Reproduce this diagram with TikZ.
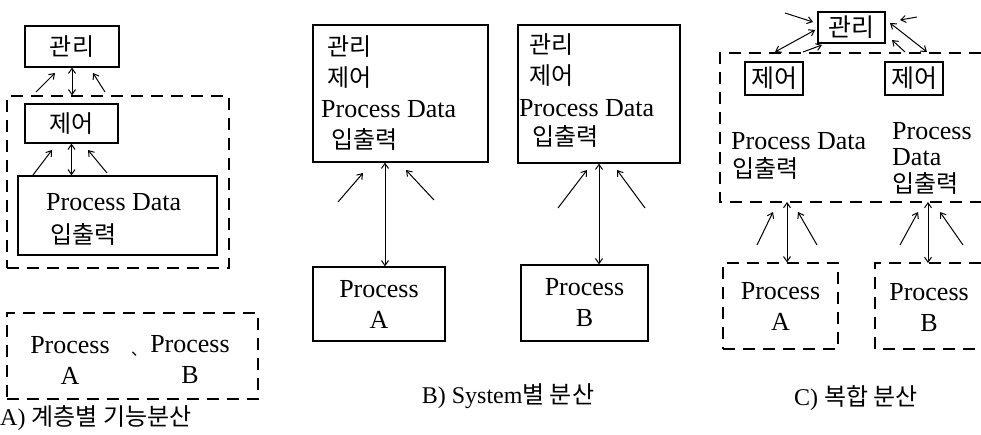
\documentclass[tikz,border=0pt]{standalone}
\usepackage{fontspec}
\setmainfont{Liberation Serif}
\newfontfamily\kr{Noto Sans CJK KR}
\usetikzlibrary{arrows.meta}
\tikzset{
  box/.style={draw, line width=1.2pt, inner sep=0pt},
  dbox/.style={box, dash pattern=on 12pt off 8pt},
  dline/.style={line width=1.2pt, dash pattern=on 12pt off 8pt},
  lat/.style={font=\fontsize{26}{31}\selectfont, inner sep=0pt},
  han/.style={font=\kr\fontsize{24}{28}\selectfont, inner sep=0pt},
  hanbig/.style={font=\kr\fontsize{25}{28}\selectfont, inner sep=0pt},
  capt/.style={font=\fontsize{24}{28}\selectfont, inner sep=0pt},
  tip/.tip={Straight Barb[length=5pt,width=7pt]},
  link/.style={line width=1pt, -tip},
  dlink/.style={line width=1pt, tip-tip},
}
\begin{document}
\begin{tikzpicture}[x=1pt,y=-1pt]
\useasboundingbox (0,0) rectangle (981,435);

% ---------- A) hierarchical distribution ----------
\node[box,han,minimum width=94pt,minimum height=41pt] (amg) at (72,46.5) {관리};
\node[dbox,minimum width=222pt,minimum height=172pt] (adash) at (118,182) {};
\node[box,han,minimum width=93pt,minimum height=39pt] (actl) at (71.5,123.5) {제어};
\node[box,minimum width=199pt,minimum height=79pt] (apd) at (117.5,215.5) {};
\node[lat,anchor=west] (apdt) at (46,202) {Process Data};
\node[han,anchor=west] (apdk) at (50,234) {입출력};

\draw[dlink] (amg.south) -- (amg.south |- adash.north);
\coordinate (a1s) at (36,92);  \coordinate (a1e) at (55,73);
\coordinate (a2s) at (105,92); \coordinate (a2e) at (93,73);
\draw[link] (a1s) -- (a1e);
\draw[link] (a2s) -- (a2e);

\draw[dlink] (actl.south) -- (actl.south |- apd.north);
\coordinate (a3s) at (33,175);  \coordinate (a3e) at (52,150);
\coordinate (a4s) at (107,173); \coordinate (a4e) at (88,150);
\draw[link] (a3s) -- (a3e);
\draw[link] (a4s) -- (a4e);

\node[dbox,minimum width=251pt,minimum height=86pt] (apab) at (132.5,356) {};
\node[lat,align=center] (apa) at (70,360) {Process\\A};
\node[lat,align=center] (apb) at (190,360) {Process\\B};
\node[font=\kr\fontsize{16}{18}\selectfont,inner sep=0pt] (acom) at (139,354) {、};
\node[capt,anchor=west] (acap) at (0,418) {A) {\kr 계층별 기능분산}};

% ---------- B) distribution by system ----------
\node[box,minimum width=175pt,minimum height=137pt] (bl) at (400.5,93.5) {};
\node[han,anchor=west] (blm) at (327,47) {관리};
\node[han,anchor=west] (blc) at (327,78) {제어};
\node[lat,anchor=west] (blp) at (321,109) {Process Data};
\node[han,anchor=west] (blk) at (331,139) {입출력};

\node[box,minimum width=162pt,minimum height=138pt] (br) at (599,94) {};
\node[han,anchor=west] (brm) at (529,45) {관리};
\node[han,anchor=west] (brc) at (529,76) {제어};
\node[lat,anchor=west] (brp) at (519,108) {Process Data};
\node[han,anchor=west] (brk) at (532,136) {입출력};

\node[box,lat,align=center,minimum width=132pt,minimum height=74pt] (pa) at (379,304) {Process\\A};
\node[box,lat,align=center,minimum width=127pt,minimum height=76pt] (pb) at (584.5,303) {Process\\B};

\coordinate (bax) at ([xshift=6pt]pa.north);
\draw[dlink] (bax |- bl.south) -- (bax);
\draw[dlink] (br.south) -- (br.south |- pb.north);

\coordinate (b1s) at (338,202); \coordinate (b1e) at (363,173);
\coordinate (b2s) at (434,200); \coordinate (b2e) at (406,170);
\coordinate (b3s) at (558,208); \coordinate (b3e) at (587,170);
\coordinate (b4s) at (645,208); \coordinate (b4e) at (617,170);
\draw[link] (b1s) -- (b1e);
\draw[link] (b2s) -- (b2e);
\draw[link] (b3s) -- (b3e);
\draw[link] (b4s) -- (b4e);

\node[capt] (bcap) at (508,396) {B) System{\kr 별 분산}};

% ---------- C) combined distribution ----------
\node[box,hanbig,minimum width=67pt,minimum height=31pt] (cmg) at (851.5,27.5) {관리};
\coordinate (ctr) at (981,53);  \coordinate (ctl) at (720,53);
\coordinate (cbl) at (720,202); \coordinate (cbr) at (981,202);
\draw[dline] (ctr) -- (ctl) -- (cbl) -- (cbr);

\node[box,hanbig,minimum width=58pt,minimum height=33pt] (cc1) at (774,78.5) {제어};
\node[box,hanbig,minimum width=58pt,minimum height=33pt] (cc2) at (914,78.5) {제어};

\node[lat,anchor=west] (cp1) at (731,141) {Process Data};
\node[han,anchor=west] (ck1) at (732,168) {입출력};
\node[lat,anchor=west] (cp2) at (892,131) {Process};
\node[lat,anchor=west] (cd2) at (892,157) {Data};
\node[han,anchor=west] (ck2) at (892,183) {입출력};

% links around the management node
\coordinate (c1s) at (785,13);  \coordinate (c1e) at (813,22);
\coordinate (c2s) at (917,17);  \coordinate (c2e) at (900,20);
\coordinate (c3s) at (775,52);  \coordinate (c3e) at (815,30);
\coordinate (c4s) at (803,52);  \coordinate (c4e) at (822,45);
\coordinate (c5s) at (927,52);  \coordinate (c5e) at (890,23);
\coordinate (c6s) at (905,52);  \coordinate (c6e) at (892,40);
\draw[link] (c1s) -- (c1e);
\draw[link] (c2s) -- (c2e);
\draw[dlink] (c3s) -- (c3e);
\draw[link] (c4s) -- (c4e);
\draw[dlink] (c5s) -- (c5e);
\draw[link] (c6s) -- (c6e);

% process boxes
\node[dbox,lat,align=center,minimum width=115pt,minimum height=86pt] (cpa) at (780.5,306) {Process\\A};
\coordinate (cq1) at (981,263); \coordinate (cq2) at (875,263);
\coordinate (cq3) at (875,349); \coordinate (cq4) at (981,349);
\draw[dline] (cq1) -- (cq2) -- (cq3) -- (cq4);
\node[lat,align=center] (cpbt) at (929,308) {Process\\B};

\coordinate (cax) at ([xshift=6.5pt]cpa.north);
\coordinate (cbx) at (928,263);
\draw[dlink] (cax |- cbl) -- (cax);
\draw[dlink] (cbx |- cbl) -- (cbx);

\coordinate (c7s) at (757,245);  \coordinate (c7e) at (773,212);
\coordinate (c8s) at (817,245);  \coordinate (c8e) at (798,212);
\coordinate (c9s) at (900,245);  \coordinate (c9e) at (918,212);
\coordinate (c10s) at (963,245); \coordinate (c10e) at (940,212);
\draw[link] (c7s) -- (c7e);
\draw[link] (c8s) -- (c8e);
\draw[link] (c9s) -- (c9e);
\draw[link] (c10s) -- (c10e);

\node[capt] (ccap) at (856,398) {C) {\kr 복합 분산}};
\end{tikzpicture}
\end{document}
